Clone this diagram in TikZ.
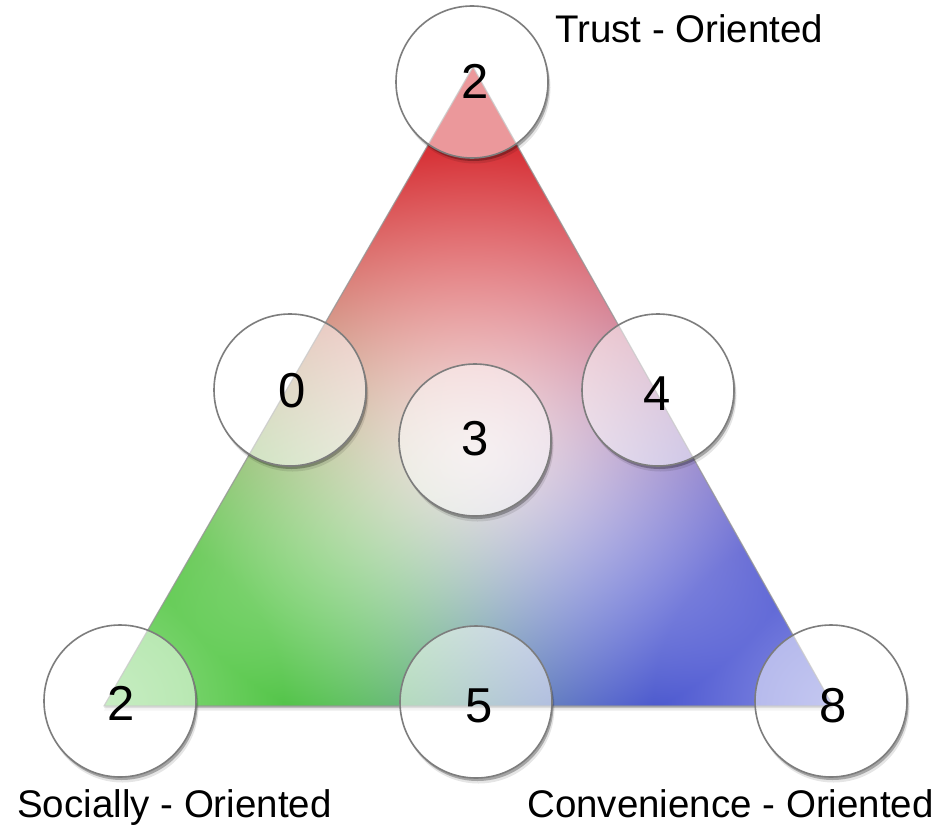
\documentclass[tikz,border=0pt]{standalone}
\usepackage{fontspec}
\setmainfont{Liberation Sans}
\definecolor{ringgray}{RGB}{125,125,125}
\definecolor{edgegray}{RGB}{150,150,150}
\pgfdeclarefunctionalshading{trishade}{\pgfpoint{0bp}{0bp}}{\pgfpoint{948bp}{826bp}}{}{
 2 copy 376 sub dup mul exch 475 sub 0.85 mul dup mul add sqrt
 300 div 1.3 exp 0.82 mul 0.18 add dup 1 gt {pop 1} if
 2 index 104 sub dup mul 2 index 120 sub dup mul add sqrt
 180 div 1 exch sub dup 0 lt {pop 0} if 0.35 mul 1 exch sub mul
 2 index 833 sub dup mul 2 index 120 sub dup mul add sqrt
 180 div 1 exch sub dup 0 lt {pop 0} if 0.35 mul 1 exch sub mul
 3 1 roll
 2 copy 0.57746 mul neg add 34.705 sub 729 div dup 0 lt {pop 0} if dup dup mul mul
 3 1 roll
 2 copy 0.56338 mul add neg 900.606 add 729 div dup 0 lt {pop 0} if dup dup mul mul
 exch 120 sub 639 div dup 0 lt {pop 0} if dup dup mul mul
 3 -1 roll pop
 3 copy add add
 4 1 roll
 3 index div
 exch 3 index div
 3 -1 roll 3 index div
 4 -1 roll pop
 2 index 0.843 mul 2 index 0.333 mul add 1 index 0.294 mul add
 1 exch sub 4 index mul 1 exch sub
 3 index 0.196 mul 3 index 0.784 mul add 2 index 0.333 mul add
 1 exch sub 5 index mul 1 exch sub
 4 index 0.216 mul 4 index 0.275 mul add 3 index 0.824 mul add
 1 exch sub 6 index mul 1 exch sub
 7 3 roll pop pop pop pop
}
\tikzset{
  ring/.style={circle, minimum size=152bp, inner sep=0pt, draw=ringgray, line width=1.6bp, fill=white, fill opacity=0.5},
  digit/.style={inner sep=0pt, anchor=base, font=\fontsize{49bp}{58bp}\selectfont, text=black},
  caption/.style={inner sep=0pt, anchor=base west, font=\fontsize{38.5bp}{45bp}\selectfont, text=black},
}
\begin{document}
\begin{tikzpicture}[x=1bp,y=-1bp]
\useasboundingbox (0,0) rectangle (948,826);
\fill[white] (0,0) rectangle (948,826);
% triangle corners
\coordinate (T) at (473,67);
\coordinate (L) at (104,706);
\coordinate (R) at (833,706);
% triangle shadow
\fill[black, opacity=0.20] ([yshift=-2bp]T) -- ([yshift=-2bp]L) -- ([yshift=-2bp]R) -- cycle;
\fill[black, opacity=0.08] ([yshift=-4.5bp]T) -- ([yshift=-4.5bp]L) -- ([yshift=-4.5bp]R) -- cycle;
% shaded triangle
\begin{scope}
  \clip (T) -- (L) -- (R) -- cycle;
  \node[inner sep=0pt, outer sep=0pt, anchor=north west] (shade) at (0,0) {\pgfuseshading{trishade}};
\end{scope}
\draw[edgegray, line width=1.2bp, opacity=0.8, line join=round] (T) -- (L) -- (R) -- cycle;
% circle centres
\coordinate (pT) at (472,82);
\coordinate (pLM) at (290,390);
\coordinate (pC) at (475,440);
\coordinate (pRM) at (658,390);
\coordinate (pL) at (120,701);
\coordinate (pBM) at (476,702);
\coordinate (pR) at (831,701);
% circle shadows
\foreach \n in {pT,pLM,pC,pRM,pL,pBM,pR}{
  \begin{scope}[even odd rule]
    \clip (0,0) rectangle (948,826) (\n) circle[radius=76bp];
    \fill[black, opacity=0.28] ([shift={(1.5,3)}]\n) circle[radius=76bp];
    \fill[black, opacity=0.10] ([shift={(2.5,5.5)}]\n) circle[radius=76bp];
  \end{scope}
}
% circles
\node[ring] (cT) at (pT) {};
\node[ring] (cLM) at (pLM) {};
\node[ring] (cC) at (pC) {};
\node[ring] (cRM) at (pRM) {};
\node[ring] (cL) at (pL) {};
\node[ring] (cBM) at (pBM) {};
\node[ring] (cR) at (pR) {};
% digits
\node[digit] (dT) at (475,98) {2};
\node[digit] (dLM) at (292,407) {0};
\node[digit] (dC) at (475,455) {3};
\node[digit] (dRM) at (657,410) {4};
\node[digit] (dL) at (121,720) {2};
\node[digit] (dBM) at (479,722) {5};
\node[digit] (dR) at (833,722) {8};
% captions
\node[caption] (trust) at (555,42) {Trust - Oriented};
\node[caption] (social) at (17,817) {Socially - Oriented};
\node[caption] (conv) at (527,817) {Convenience - Oriented};
\end{tikzpicture}
\end{document}
